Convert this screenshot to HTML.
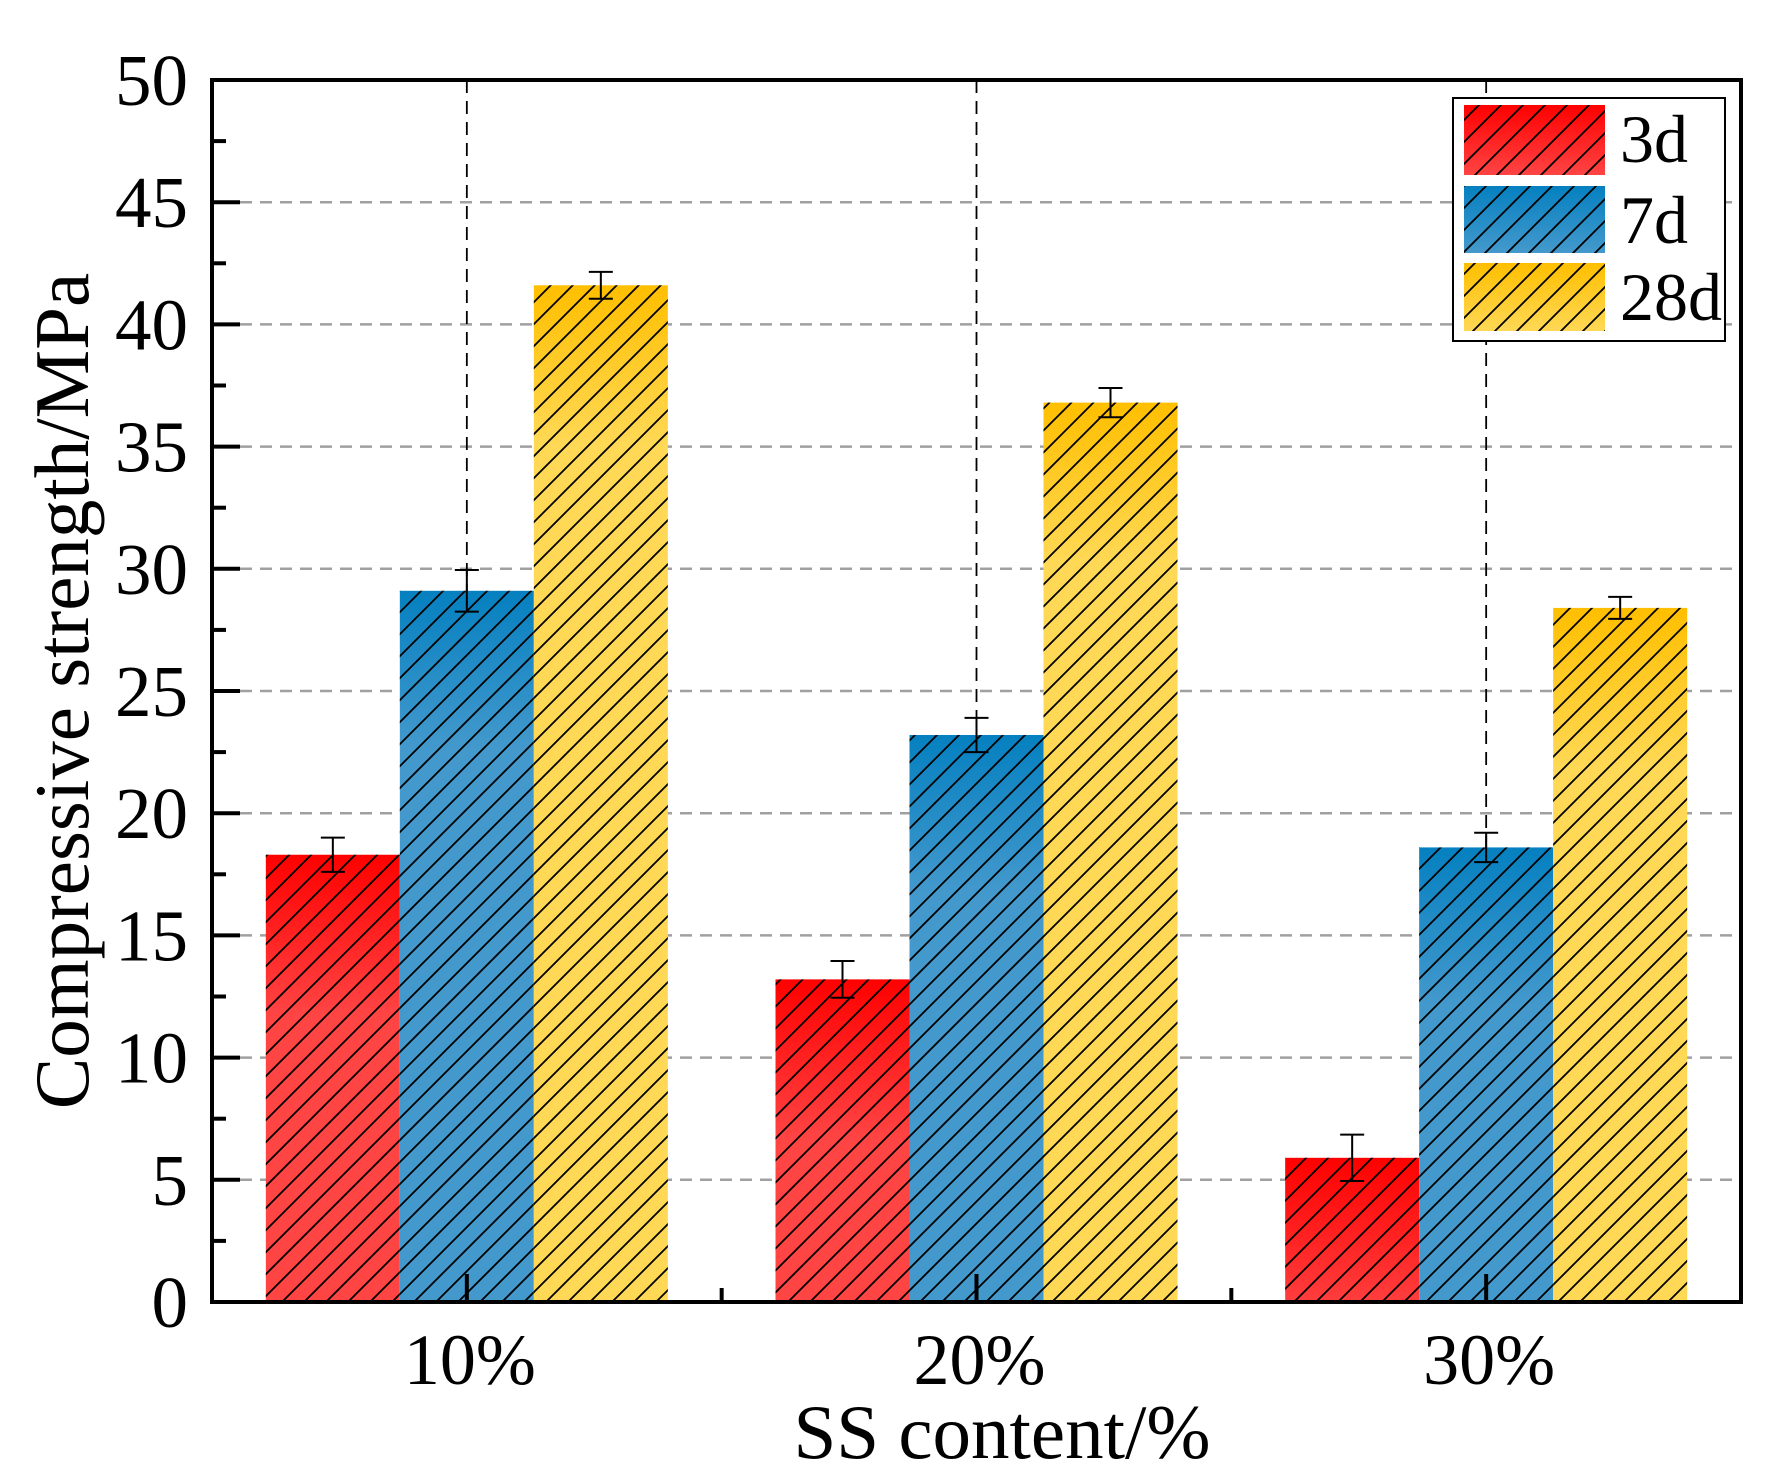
<!DOCTYPE html>
<html><head><meta charset="utf-8"><style>
html,body{margin:0;padding:0;background:#fff;}
svg{display:block;font-family:"Liberation Serif","Times New Roman",serif;}
</style></head><body>
<svg id="chart" width="1779" height="1479" viewBox="0 0 1779 1479" xmlns="http://www.w3.org/2000/svg">
<defs>
<pattern id="hatch" patternUnits="userSpaceOnUse" width="22" height="22">
<path d="M-2,24 L24,-2 M-13,13 L13,-13 M9,35 L35,9" stroke="#000" stroke-width="1.8"/>
</pattern>
</defs>
<g id="grid"></g>
<g id="bars"></g>
<g id="errs"></g>
<g id="axes"></g>
<g id="legend"></g>
</svg>
<script>
const categories = ["10%", "20%", "30%"];
const seriesNames = ["3d", "7d", "28d"];
const values3d = [18.3, 13.2, 5.9];
const values7d = [29.1, 23.2, 18.6];
const values28d = [41.6, 36.8, 28.4];
const err3d = [0.7, 0.75, 0.95];
const err7d = [0.85, 0.7, 0.6];
const err28d = [0.55, 0.6, 0.45];
const yTicks = [0, 5, 10, 15, 20, 25, 30, 35, 40, 45, 50];

const NS = "http://www.w3.org/2000/svg";
const L = 212, R = 1741, T = 80, B = 1302;
const yMax = 50;
const y = v => B - (v / yMax) * (B - T);
const groupW = (R - L) / categories.length;
const xc = i => L + groupW * (i + 0.5);
const barW = 134;
const colors = [["#ff0000", "#ff4444"], ["#0580c0", "#4499cc"], ["#ffbf00", "#ffd855"]];
const series = [values3d, values7d, values28d];
const errs = [err3d, err7d, err28d];

function mk(tag, attrs, parent) {
  const e = document.createElementNS(NS, tag);
  for (const k in attrs) e.setAttribute(k, attrs[k]);
  parent.appendChild(e);
  return e;
}
const svg = document.getElementById("chart");
const defs = svg.querySelector("defs");
const gGrid = document.getElementById("grid");
const gBars = document.getElementById("bars");
const gErr = document.getElementById("errs");
const gAx = document.getElementById("axes");
const gLeg = document.getElementById("legend");

yTicks.forEach(t => {
  if (t === 0 || t === 50) return;
  const ln = mk("line", {x1: L + 28, x2: R, y1: y(t), y2: y(t), stroke: "#a0a0a0", "stroke-width": 2.5, "stroke-dasharray": "12 8"}, gGrid);
  
  
});
categories.forEach((c, i) => {
  const ln = mk("line", {x1: xc(i), x2: xc(i), y1: T, y2: B, stroke: "#000", "stroke-width": 1.8, "stroke-dasharray": "13 8"}, gGrid);
  
  
});

let gid = 0;
categories.forEach((c, i) => {
  series.forEach((vals, s) => {
    const x0 = xc(i) - 1.5 * barW + s * barW;
    const top = y(vals[i]);
    const gr = mk("linearGradient", {id: "g" + gid, gradientUnits: "userSpaceOnUse", x1: 0, x2: 0, y1: top, y2: top + 160}, defs);
    mk("stop", {offset: 0, "stop-color": colors[s][0]}, gr);
    mk("stop", {offset: 1, "stop-color": colors[s][1]}, gr);
    const r = mk("rect", {x: x0, y: top, width: barW, height: B - top, fill: "url(#g" + gid + ")"}, gBars);
    
    
    const h = mk("rect", {x: x0, y: top, width: barW, height: B - top, fill: "url(#hatch)"}, gBars);
    
    
    gid++;
    const cx = x0 + barW / 2, e = errs[s][i];
    const eg = mk("g", {stroke: "#000", "stroke-width": 2}, gErr);
    
    
    mk("line", {x1: cx, x2: cx, y1: y(vals[i] + e), y2: y(vals[i] - e)}, eg);
    mk("line", {x1: cx - 12, x2: cx + 12, y1: y(vals[i] + e), y2: y(vals[i] + e)}, eg);
    mk("line", {x1: cx - 12, x2: cx + 12, y1: y(vals[i] - e), y2: y(vals[i] - e)}, eg);
  });
});

const fr = mk("rect", {x: L, y: T, width: R - L, height: B - T, fill: "none", stroke: "#000", "stroke-width": 4}, gAx);


yTicks.forEach(t => {
  mk("line", {x1: L, x2: L + 28, y1: y(t), y2: y(t), stroke: "#000", "stroke-width": 4}, gAx);
  if (t < 50) mk("line", {x1: L, x2: L + 14, y1: y(t + 2.5), y2: y(t + 2.5), stroke: "#000", "stroke-width": 4}, gAx);
  const tx = mk("text", {x: 188, y: y(t) + 25, "text-anchor": "end", "font-size": 73}, gAx);
  tx.textContent = t;
  
  
});
categories.forEach((c, i) => {
  mk("line", {x1: xc(i), x2: xc(i), y1: B, y2: B - 28, stroke: "#000", "stroke-width": 4}, gAx);
  if (i > 0) mk("line", {x1: L + groupW * i, x2: L + groupW * i, y1: B, y2: B - 14, stroke: "#000", "stroke-width": 4}, gAx);
  const tx = mk("text", {x: xc(i) + 3, y: 1384, "text-anchor": "middle", "font-size": 72}, gAx);
  tx.textContent = c;
  
  
});
const xt = mk("text", {x: 1002, y: 1458, "text-anchor": "middle", "font-size": 77}, gAx);
xt.textContent = "SS content/%";


const yt = mk("text", {x: 0, y: 0, "text-anchor": "middle", "font-size": 77, transform: "translate(88," + ((T + B) / 2) + ") rotate(-90)"}, gAx);
yt.textContent = "Compressive strength/MPa";



const lb = mk("rect", {x: 1453, y: 98, width: 272, height: 243, fill: "#fff", stroke: "#000", "stroke-width": 2}, gLeg);


const legY = [105, 186, 263], legH = [70, 67, 68], legTxtY = [162, 243, 320];
seriesNames.forEach((n, s) => {
  const g = mk("g", {}, gLeg);
  
  
  const gr = mk("linearGradient", {id: "lg" + s, x1: 0, x2: 0, y1: 0, y2: 1}, defs);
  mk("stop", {offset: 0, "stop-color": colors[s][0]}, gr);
  mk("stop", {offset: 1, "stop-color": colors[s][1]}, gr);
  mk("rect", {x: 1464, y: legY[s], width: 141, height: legH[s], fill: "url(#lg" + s + ")"}, g);
  mk("rect", {x: 1464, y: legY[s], width: 141, height: legH[s], fill: "url(#hatch)"}, g);
  const t = mk("text", {x: 1620, y: legTxtY[s], "font-size": 68}, g);
  t.textContent = n;
});
</script>
</body></html>
